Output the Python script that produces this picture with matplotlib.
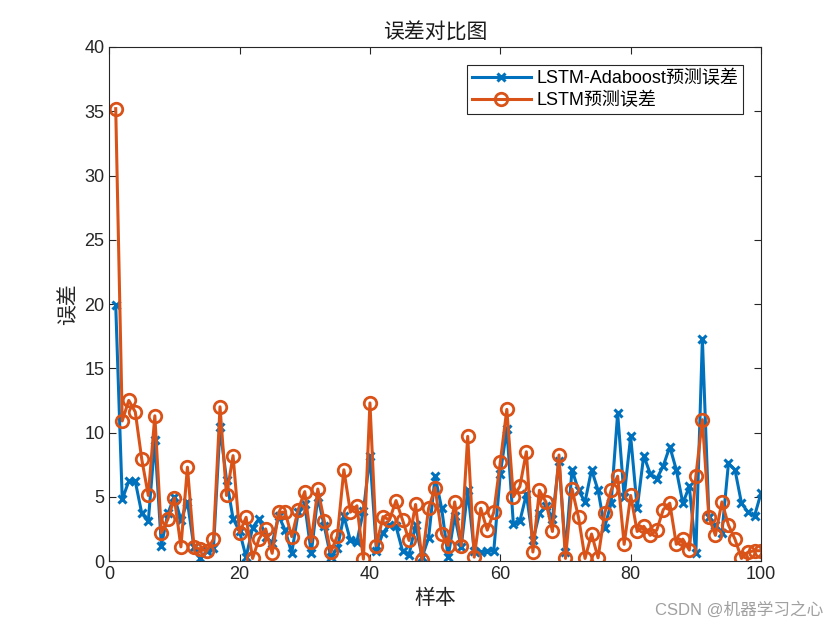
import numpy as np
import matplotlib
matplotlib.use("Agg")
import matplotlib.pyplot as plt

# sample errors (samples 1..100)
ada_err = [19.9, 4.8, 6.2, 6.2, 3.7, 3.1, 9.4, 1.2, 3.7, 5.0,
           3.2, 4.6, 1.1, 0.2, 0.8, 1.0, 10.4, 6.3, 3.3, 2.3,
           0.3, 2.6, 3.3, 1.9, 1.4, 3.5, 2.4, 0.6, 3.8, 4.4,
           0.6, 5.0, 2.7, 0.3, 1.0, 3.5, 1.6, 1.5, 3.9, 8.2,
           0.8, 2.2, 2.8, 2.7, 0.8, 0.5, 2.8, 0.3, 1.8, 6.6,
           4.1, 0.3, 3.5, 1.1, 5.5, 0.8, 0.7, 0.8, 0.8, 6.8,
           10.3, 2.9, 3.1, 5.2, 1.6, 3.7, 4.3, 3.3, 7.8, 0.7,
           7.1, 5.5, 4.6, 7.1, 5.5, 2.6, 4.5, 11.5, 5.0, 9.7,
           4.1, 8.2, 6.8, 6.4, 7.4, 8.9, 7.1, 4.5, 5.8, 0.6,
           17.3, 3.45, 2.8, 2.2, 7.6, 7.1, 4.5, 3.8, 3.5, 5.3]

lstm_err = [35.2, 10.9, 12.5, 11.6, 7.9, 5.1, 11.3, 2.2, 3.25, 4.9,
            1.1, 7.3, 1.1, 0.9, 0.8, 1.7, 12.0, 5.1, 8.2, 2.2,
            3.4, 0.2, 1.75, 2.5, 0.6, 3.8, 3.8, 1.9, 4.0, 5.4,
            1.5, 5.6, 3.1, 0.7, 1.95, 7.1, 3.8, 4.3, 0.15, 12.3,
            1.2, 3.45, 3.2, 4.7, 3.2, 1.6, 4.4, 0.1, 4.1, 5.7,
            2.1, 1.2, 4.6, 1.2, 9.7, 0.3, 4.1, 2.4, 3.8, 7.7,
            11.8, 5.0, 5.8, 8.5, 0.7, 5.5, 4.6, 2.3, 8.25, 0.2,
            5.6, 3.4, 0.2, 2.1, 0.25, 3.7, 5.5, 6.6, 1.3, 5.1,
            2.3, 2.7, 2.0, 2.4, 4.0, 4.5, 1.3, 1.7, 0.85, 6.6,
            11.0, 3.4, 2.0, 4.6, 2.8, 1.7, 0.2, 0.7, 0.8, 0.8]

samples = np.arange(1, len(ada_err) + 1)

plt.rcParams['font.family'] = ['Liberation Sans', 'Noto Sans CJK SC', 'DejaVu Sans']
plt.rcParams['axes.unicode_minus'] = False

fig = plt.figure(figsize=(8.4, 6.3), dpi=100)
ax = fig.add_axes([0.13, 0.1095, 0.776, 0.8159])

ax.plot(samples, ada_err, color='#0072BD', lw=2.2, marker='x', ms=6, mew=2.2,
        label='LSTM-Adaboost预测误差')
ax.plot(samples, lstm_err, color='#D95319', lw=2.2, marker='o', ms=9, mew=2,
        mfc='none', label='LSTM预测误差')

ax.set_xlim(0, 100)
ax.set_ylim(0, 40)
ax.set_xticks(np.arange(0, 101, 20))
ax.set_yticks(np.arange(0, 41, 5))

axcol = '#262626'
for s in ax.spines.values():
    s.set_color(axcol)
    s.set_linewidth(0.8)
ax.tick_params(direction='in', top=True, right=True, length=5, width=0.8,
               colors=axcol, labelsize=13, labelcolor='#262626')

ax.set_title('误差对比图', fontsize=15, color='#1a1a1a')
ax.set_xlabel('样本', fontsize=15, color='#262626')
ax.set_ylabel('误差', fontsize=15, color='#262626')

leg = ax.legend(loc='upper right', fontsize=13, fancybox=False, framealpha=1,
                edgecolor='#262626', borderaxespad=1.0, handlelength=3.3,
                handletextpad=0.3, borderpad=0.25, labelspacing=0.3)
leg.get_frame().set_linewidth(0.8)

fig.text(0.98, 0.02, 'CSDN @机器学习之心', ha='right', va='bottom', fontsize=12,
         color='#a0a0a0')

fig.savefig('out.png', dpi=100)
